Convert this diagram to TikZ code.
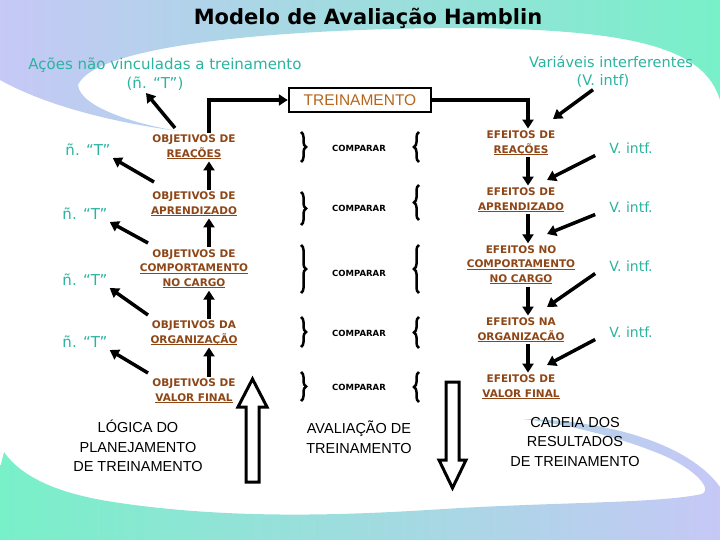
\documentclass[tikz,border=0pt]{standalone}
\usepackage{fontspec}
\setmainfont{DejaVu Sans}
\newfontfamily\narrowfont{Liberation Sans}
\usetikzlibrary{arrows.meta,decorations.pathreplacing}
\definecolor{HBTeal}{HTML}{2AB3A0}
\definecolor{HBBrown}{HTML}{8E4616}
\definecolor{HBOrange}{HTML}{B5651D}
\definecolor{HBLilac}{HTML}{C6C8F6}
\definecolor{HBMint}{HTML}{78F0C8}
\newcommand\undl[1]{\setbox0\hbox{#1}\rlap{\rule[-2.2pt]{\wd0}{1.3pt}}\box0}
\tikzset{
  arr/.style={line width=3.5pt,-{Triangle[length=9pt,width=11pt]}},
  lvl/.style={font=\bfseries\fontsize{10.5}{14.5}\selectfont,text=HBBrown,align=center,inner sep=2pt},
  cmp/.style={font=\bfseries\fontsize{8.5}{10}\selectfont},
  teal/.style={text=HBTeal,inner sep=2pt},
  brc/.style={line width=2.5pt,decorate,decoration={brace,amplitude=5pt}},
  big/.style={draw,line width=3pt,fill=white,line join=miter},
  chain/.style={font=\narrowfont\fontsize{14.5}{19.5}\selectfont,align=center}
}
\begin{document}
\begin{tikzpicture}[x=1pt,y=-1pt]
\path[use as bounding box] (0,0) rectangle (720,540);
% background swooshes
\shade[left color=HBLilac,right color=HBMint] (0,0) -- (720,0) -- (720,100)
  .. controls (705,50) and (640,30) .. (470,28)
  .. controls (280,28) and (95,45) .. (78,85)
  .. controls (80,108) and (140,125) .. (178,131)
  .. controls (110,122) and (45,105) .. (0,80) -- cycle;
\shade[left color=HBMint,right color=HBLilac] (0,540) -- (0,468) -- (4,452)
  .. controls (25,482) and (70,496) .. (120,503)
  .. controls (250,522) and (380,513) .. (460,508)
  .. controls (570,502) and (660,503) .. (702,494)
  .. controls (714,488) and (690,465) .. (655,452)
  .. controls (615,436) and (565,424) .. (523,419)
  .. controls (610,420) and (690,445) .. (720,487) -- (720,540) -- cycle;

\node (title) at (368,18) {\bfseries\fontsize{21}{24}\selectfont Modelo de Avaliação Hamblin};
\node[teal,font=\fontsize{15}{18}\selectfont] (acoes) at (165,65) {Ações não vinculadas a treinamento};
\node[teal,font=\fontsize{15}{18}\selectfont] (acoesT) at (155,84) {(ñ. “T”)};
\node[teal,font=\fontsize{14.5}{18}\selectfont] (var) at (611,62) {Variáveis interferentes};
\node[teal,font=\fontsize{14.5}{18}\selectfont] (varT) at (603,81) {(V. intf)};
\node[draw,line width=2.5pt,minimum width=142pt,minimum height=24pt,text=HBOrange,
  font=\narrowfont\fontsize{15.5}{18}\selectfont] (trein) at (360,100) {TREINAMENTO};

% objetivos
\node[lvl] (obj1) at (194,147) {OBJETIVOS DE\\\undl{REAÇÕES}};
\node[lvl] (obj2) at (194,204) {OBJETIVOS DE\\\undl{APRENDIZADO}};
\node[lvl] (obj3) at (194,269) {OBJETIVOS DE\\\undl{COMPORTAMENTO}\\\undl{NO CARGO}};
\node[lvl] (obj4) at (194,333) {OBJETIVOS DA\\\undl{ORGANIZAÇÃO}};
\node[lvl] (obj5) at (194,391) {OBJETIVOS DE\\\undl{VALOR FINAL}};
% efeitos
\node[lvl] (efe1) at (521,143) {EFEITOS DE\\\undl{REAÇÕES}};
\node[lvl] (efe2) at (521,200) {EFEITOS DE\\\undl{APRENDIZADO}};
\node[lvl] (efe3) at (521,265) {EFEITOS NO\\\undl{COMPORTAMENTO}\\\undl{NO CARGO}};
\node[lvl] (efe4) at (521,330) {EFEITOS NA\\\undl{ORGANIZAÇÃO}};
\node[lvl] (efe5) at (521,387) {EFEITOS DE\\\undl{VALOR FINAL}};

% comparar
\foreach \i/\y/\ya/\yb/\yc/\yd in {1/148/132/162/132/162,2/208/192/225/185/220,3/273/245/293/245/293,4/333/317/347/317/348,5/387/372/401/372/402}{
  \node[cmp] (cmp\i) at (359,\y) {COMPARAR};
  \draw[brc] (301,\ya) -- (301,\yb);
  \draw[brc] (419,\yd) -- (419,\yc);
}

% ñ. "T" and V. intf.
\foreach \i/\x/\y in {1/88/150,2/85/214,3/85/280,4/85/342}
  \node[teal,font=\fontsize{15}{18}\selectfont] (nt\i) at (\x,\y) {ñ. “T”};
\foreach \i/\y in {1/148,2/207,3/266,4/332}
  \node[teal,font=\fontsize{14}{18}\selectfont] (vi\i) at (631,\y) {V. intf.};

\coordinate (o1) at (175,128);
\coordinate (o2) at (154,182);
\coordinate (o3) at (148,243);
\coordinate (o4) at (148,315);
\coordinate (o5) at (148,373);
\coordinate (v0) at (553,119);
\coordinate (v1) at (547,180);
\coordinate (v2) at (547,234);
\coordinate (v3) at (547,307);
\coordinate (v4) at (547,365);

% connectors
\draw[arr] ([xshift=15pt]obj1.north) |- (trein.west);
\draw[arr] (trein.east) -| ([xshift=7pt]efe1.north);
\foreach \a/\b in {2/1,3/2,4/3,5/4}
  \draw[arr] ([xshift=15pt]obj\a.north) -- ([xshift=15pt]obj\b.south);
\foreach \a/\b in {1/2,2/3,3/4,4/5}
  \draw[arr] ([xshift=7pt]efe\a.south) -- ([xshift=7pt]efe\b.north);
\draw[arr] (o1) -- ([xshift=-9pt]acoesT.south);
\foreach \a/\b in {2/1,3/2,4/3,5/4}
  \draw[arr] (o\a) -- (nt\b.south east);
\draw[arr] ([xshift=-10pt]varT.south) -- (v0);
\foreach \i in {1,2,3,4}
  \draw[arr] ([xshift=-12pt]vi\i.south west) -- (v\i);

% big arrows
\draw[big] (246,482) -- (246,407) -- (238,407) -- (252.5,379) -- (267,407) -- (259,407) -- (259,482) -- cycle;
\draw[big] (446,382) -- (459,382) -- (459,460) -- (466,460) -- (452.5,488) -- (439,460) -- (446,460) -- cycle;

\node[chain] (logica) at (138,446) {LÓGICA DO\\PLANEJAMENTO\\DE TREINAMENTO};
\node[chain] (avalia) at (359,437) {AVALIAÇÃO DE\\TREINAMENTO};
\node[chain] (cadeia) at (575,442) {CADEIA DOS\\RESULTADOS\\DE TREINAMENTO};
\end{tikzpicture}
\end{document}
